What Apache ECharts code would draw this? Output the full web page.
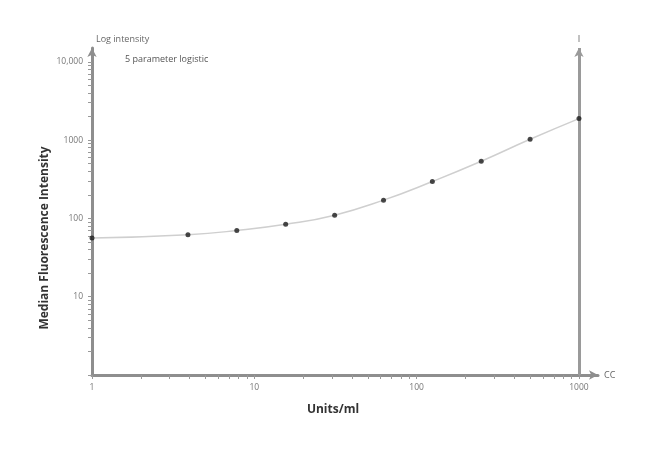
<!DOCTYPE html>
<html>
<head>
<meta charset="utf-8">
<script src="https://cdn.jsdelivr.net/npm/echarts@6/dist/echarts.min.js"></script>
<style>html,body{margin:0;padding:0;background:#fff}#c{width:650px;height:449px}</style>
</head>
<body>
<div id="c"></div>
<script>
const concentrations = [1, 3.9, 7.8, 15.6, 31.25, 62.5, 125, 250, 500, 1000];
const intensities = [56, 62, 70, 84, 110, 171, 296, 537, 1024, 1880];
const xTickValues = [1,2,3,4,5,6,7,8,9,10,20,30,40,50,60,70,80,90,100,200,300,400,500,600,700,800,900,1000];
const xLabelValues = [1, 10, 100, 1000];
const yTickValues = [1,2,3,4,5,6,7,8,9,10,20,30,40,50,60,70,80,90,100,200,300,400,500,600,700,800,900,1000,2000,3000,4000,5000,6000,7000,8000,9000,10000];
const yLabelValues = [10, 100, 1000, 10000];

const points = concentrations.map((c, i) => [c, intensities[i]]);
const font = '"Open Sans", "DejaVu Sans", sans-serif';
const axisGray = '#8e8e8e';

const chart = echarts.init(document.getElementById('c'), null, {renderer: 'canvas'});
chart.setOption({
  animation: false,
  backgroundColor: '#fff',
  grid: {left: 92, right: 52, top: 48, bottom: 74},
  xAxis: {
    type: 'log', logBase: 10, min: 1, max: 1310,
    name: 'CC', nameLocation: 'end', nameGap: 6,
    nameTextStyle: {color: '#666', fontSize: 9, fontFamily: font, verticalAlign: 'middle'},
    axisLine: {show: true, onZero: false, symbol: ['none', 'arrow'], symbolSize: [7, 9], lineStyle: {color: axisGray, width: 3}},
    axisTick: {show: true, inside: false, length: 4, customValues: xTickValues, lineStyle: {color: '#999', width: 1}},
    axisLabel: {customValues: xLabelValues, color: '#777', fontSize: 8.5, fontFamily: font, margin: 8,
      formatter: v => String(v)},
    splitLine: {show: false}
  },
  yAxis: {
    type: 'log', logBase: 10, min: 1, max: 15000,
    name: 'Log intensity', nameLocation: 'end', nameGap: 4,
    nameTextStyle: {color: '#666', fontSize: 9, fontFamily: font, align: 'left', padding: [0, 0, 0, 4]},
    axisLine: {show: true, onZero: false, symbol: ['none', 'arrow'], symbolSize: [7, 9], lineStyle: {color: axisGray, width: 3}},
    axisTick: {show: true, inside: false, length: 4, customValues: yTickValues, lineStyle: {color: '#999', width: 1}},
    axisLabel: {customValues: yLabelValues, color: '#777', fontSize: 8.5, fontFamily: font, margin: 9,
      formatter: v => v >= 10000 ? '10,000' : String(v)},
    splitLine: {show: false}
  },
  series: [
    {
      type: 'line', data: points, smooth: true, showSymbol: false, z: 2,
      lineStyle: {color: '#cfcfcf', width: 1.5},
      markLine: {
        silent: true, symbol: ['none', 'arrow'], symbolSize: [7, 9],
        lineStyle: {color: '#9a9a9a', width: 3, type: 'solid'},
        label: {show: true, position: 'end', formatter: 'I', color: '#666', fontSize: 9, fontFamily: font, distance: 4},
        data: [{xAxis: 1000}]
      }
    },
    {
      type: 'scatter', data: points, symbol: 'circle', symbolSize: 5, z: 5,
      itemStyle: {color: '#1a1a1a'}
    }
  ],
  graphic: [
    {type: 'text', left: 125, top: 55, style: {text: '5 parameter logistic', fill: '#555', font: '9px ' + font}},
    {type: 'text', x: 333, y: 410, style: {text: 'Units/ml', fill: '#333', font: 'bold 12px ' + font, align: 'center', verticalAlign: 'middle'}},
    {type: 'text', x: 45, y: 238, rotation: Math.PI / 2, style: {text: 'Median Fluorescence Intensity', fill: '#333', font: 'bold 12px ' + font, align: 'center', verticalAlign: 'middle'}}
  ]
});
</script>
</body>
</html>
